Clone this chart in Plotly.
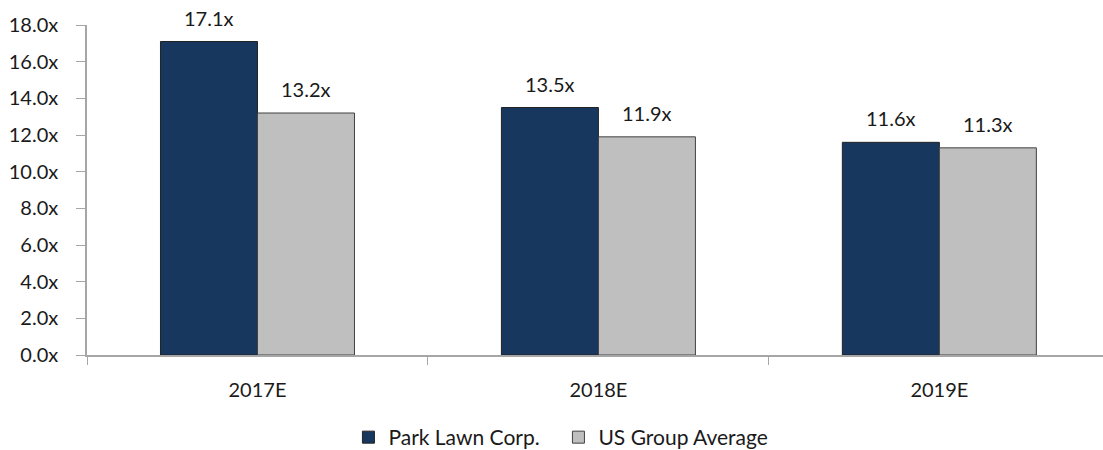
import plotly.graph_objects as go

categories = ["2017E", "2018E", "2019E"]
park_lawn = [17.1, 13.5, 11.6]
us_group = [13.2, 11.9, 11.3]
series_names = ["Park Lawn Corp.", "US Group Average"]
y_ticks = [0, 2, 4, 6, 8, 10, 12, 14, 16, 18]

FONT = "Lato"
FS = 20
dark = "#17375E"
gray = "#BFBFBF"

fig = go.Figure()
fig.add_trace(go.Bar(x=categories, y=park_lawn, name=series_names[0],
                     marker=dict(color=dark, line=dict(color="#222222", width=1))))
fig.add_trace(go.Bar(x=categories, y=us_group, name=series_names[1],
                     marker=dict(color=gray, line=dict(color="#404040", width=1))))

for vals, shift in ((park_lawn, -48.5), (us_group, 48.5)):
    for c, v in zip(categories, vals):
        fig.add_annotation(x=c, y=v, text=f"{v:.1f}x", showarrow=False,
                           xshift=shift, yshift=24, yanchor="middle",
                           font=dict(family=FONT, size=FS, color="#1a1a1a"))

fig.update_layout(
    width=1103, height=450,
    margin=dict(l=87, r=0, t=25, b=95, autoexpand=False),
    plot_bgcolor="white", paper_bgcolor="white",
    barmode="group", bargap=0.431, bargroupgap=0,
    font=dict(family=FONT, size=FS, color="#1a1a1a"),
    showlegend=True,
    legend=dict(orientation="h", x=0.464, xanchor="center", y=-0.25, yanchor="middle",
                font=dict(family=FONT, size=21), itemwidth=30, entrywidth=165,
                traceorder="normal"),
    xaxis=dict(range=[-0.5, 2.48], showline=True, linecolor="#A6A6A6", linewidth=1.5,
               ticks="outside", tickson="boundaries", ticklen=8, tickcolor="#A6A6A6",
               showgrid=False, ticklabelstandoff=16, automargin=False,
               tickfont=dict(family=FONT, size=FS)),
    yaxis=dict(range=[0, 18], tickvals=y_ticks,
               ticktext=[f"{t:.1f}x" for t in y_ticks],
               showline=True, linecolor="#A6A6A6", linewidth=1.5,
               ticks="outside", ticklen=9, tickcolor="#A6A6A6",
               showgrid=False, zeroline=False, ticklabelstandoff=14, automargin=False,
               tickfont=dict(family=FONT, size=FS)),
)

fig.write_html("out.html")
